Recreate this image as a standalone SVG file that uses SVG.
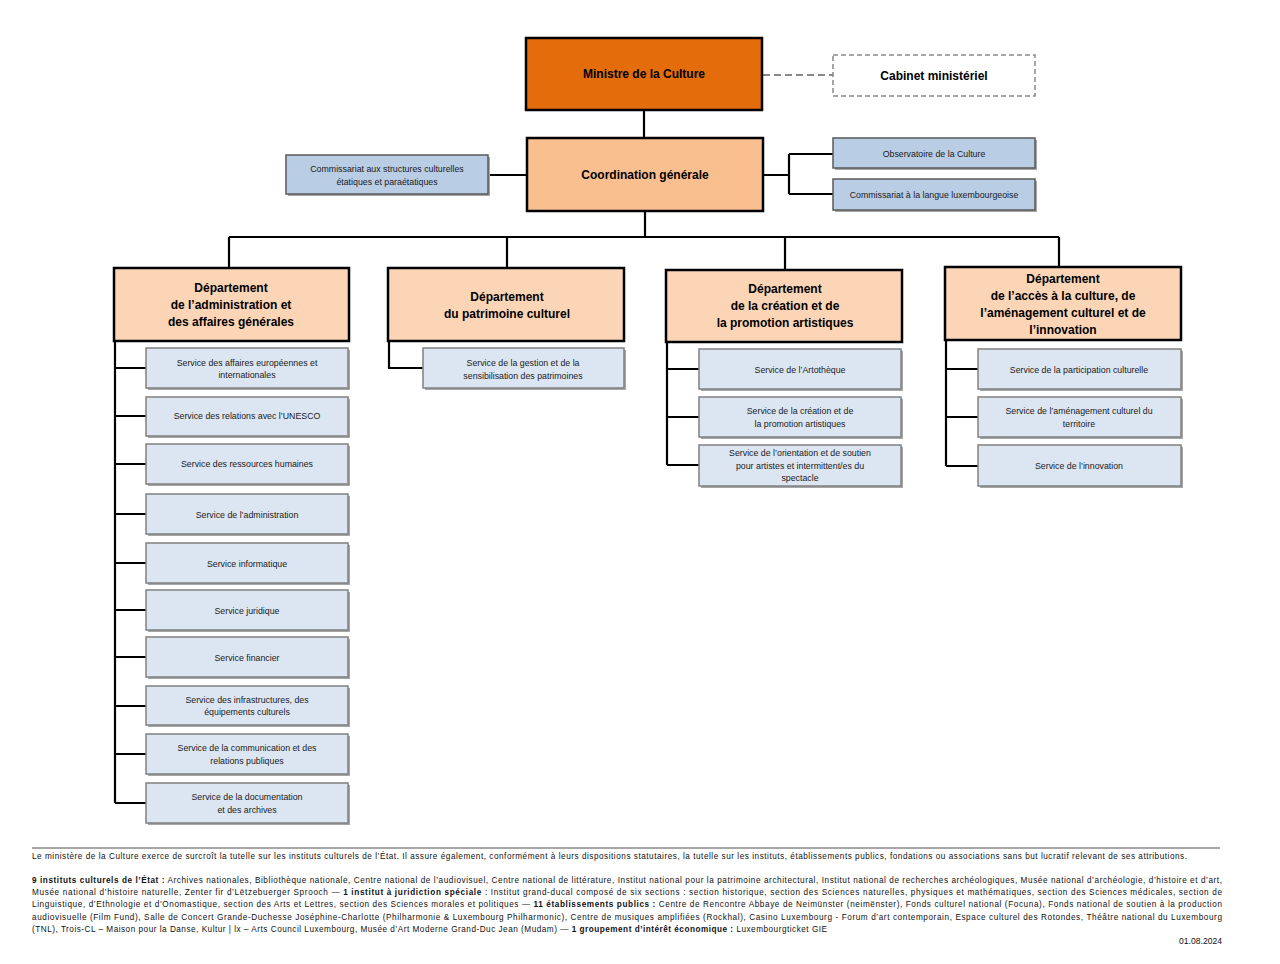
<svg xmlns="http://www.w3.org/2000/svg" width="1280" height="964" viewBox="0 0 1280 964">
<style>
text{font-family:"Liberation Sans",Arial,sans-serif;fill:#000;text-anchor:middle;dominant-baseline:central}
.top{stroke:#000;stroke-width:2.5}
.min{fill:#E46C0A}
.coord{fill:#F9BF8F}
.dept{fill:#FBD5B5}
.blue{fill:#B9CDE5;stroke:#595959;stroke-width:1.5}
.svc{fill:#DCE6F2;stroke:#808080;stroke-width:1.5}
.sh{fill:#A6A6A6}
.t1{font-size:12px;font-weight:bold}
.td{font-size:12px;font-weight:bold}
.ts{font-size:8.8px;fill:#1a1a1a}
.tb{font-size:8.8px;fill:#1a1a1a}
.ft{font-size:8.2px;text-anchor:start;dominant-baseline:auto;fill:#111}
.b{font-weight:bold}
.ln{fill:none;stroke:#000;stroke-width:2.2}
</style>
<rect width="1280" height="964" fill="#fff"/>
<g id="connectors">
<path class="ln" d="M644 110V138M488 175H527M763 175H789M789 154V194M789 154H833M789 194H833M645 211V237M229 237H1059M229 237V268M507 237V268M785 237V270M1059 237V267"/>
<path d="M763 75H833" fill="none" stroke="#888" stroke-width="2" stroke-dasharray="7,4"/>
<path class="ln" d="M115 341V803M115 368H146M115 416H146M115 464H146M115 514H146M115 563H146M115 610H146M115 657H146M115 706H146M115 754H146M115 803H146"/>
<path class="ln" d="M389 341V368H423"/>
<path class="ln" d="M667 342V465M667 369H699M667 417H699M667 465H699"/>
<path class="ln" d="M946 340V466M946 369H978M946 417H978M946 466H978"/>
</g>
<g id="ministre"><rect class="top min" x="526" y="38" width="236" height="72"/><text class="t1" x="644" y="74">Ministre de la Culture</text></g>
<g id="cabinet"><rect x="833" y="55" width="202" height="41" fill="#fff" stroke="#888" stroke-width="1.5" stroke-dasharray="5,3"/><text class="t1" x="934" y="76">Cabinet ministériel</text></g>
<g id="coordination"><rect class="top coord" x="527" y="138" width="236" height="73"/><text class="t1" x="645" y="175">Coordination générale</text></g>
<g id="commissariat-structures"><rect class="sh" x="288" y="157" width="202" height="39"/><rect class="blue" x="286" y="155" width="202" height="39"/><text class="tb" x="387" y="169">Commissariat aux structures culturelles</text><text class="tb" x="387" y="182">étatiques et paraétatiques</text></g>
<g id="observatoire"><rect class="sh" x="835" y="140" width="202" height="30"/><rect class="blue" x="833" y="138" width="202" height="30"/><text class="tb" x="934" y="154">Observatoire de la Culture</text></g>
<g id="commissariat-langue"><rect class="sh" x="835" y="181" width="202" height="31"/><rect class="blue" x="833" y="179" width="202" height="31"/><text class="tb" x="934" y="195">Commissariat à la langue luxembourgeoise</text></g>
<g id="dept-admin"><rect class="top dept" x="114" y="268" width="235" height="73"/><text class="td" x="231" y="288">Département</text><text class="td" x="231" y="305">de l’administration et</text><text class="td" x="231" y="322">des affaires générales</text></g>
<g id="dept-patrimoine"><rect class="top dept" x="388" y="268" width="236" height="73"/><text class="td" x="507" y="297">Département</text><text class="td" x="507" y="314">du patrimoine culturel</text></g>
<g id="dept-creation"><rect class="top dept" x="666" y="270" width="236" height="72"/><text class="td" x="785" y="289">Département</text><text class="td" x="785" y="306">de la création et de</text><text class="td" x="785" y="323">la promotion artistiques</text></g>
<g id="dept-acces"><rect class="top dept" x="945" y="267" width="236" height="73"/><text class="td" x="1063" y="279">Département</text><text class="td" x="1063" y="296">de l’accès à la culture, de</text><text class="td" x="1063" y="313">l’aménagement culturel et de</text><text class="td" x="1063" y="330">l’innovation</text></g>
<g id="s-europe"><rect class="sh" x="148" y="350" width="202" height="40"/><rect class="svc" x="146" y="348" width="202" height="40"/><text class="ts" x="247" y="363">Service des affaires européennes et</text><text class="ts" x="247" y="375">internationales</text></g>
<g id="s-unesco"><rect class="sh" x="148" y="399" width="202" height="39"/><rect class="svc" x="146" y="397" width="202" height="39"/><text class="ts" x="247" y="416">Service des relations avec l’UNESCO</text></g>
<g id="s-rh"><rect class="sh" x="148" y="446" width="202" height="40"/><rect class="svc" x="146" y="444" width="202" height="40"/><text class="ts" x="247" y="464">Service des ressources humaines</text></g>
<g id="s-admin"><rect class="sh" x="148" y="496" width="202" height="40"/><rect class="svc" x="146" y="494" width="202" height="40"/><text class="ts" x="247" y="515">Service de l’administration</text></g>
<g id="s-info"><rect class="sh" x="148" y="545" width="202" height="40"/><rect class="svc" x="146" y="543" width="202" height="40"/><text class="ts" x="247" y="564">Service informatique</text></g>
<g id="s-jur"><rect class="sh" x="148" y="592" width="202" height="40"/><rect class="svc" x="146" y="590" width="202" height="40"/><text class="ts" x="247" y="611">Service juridique</text></g>
<g id="s-fin"><rect class="sh" x="148" y="639" width="202" height="40"/><rect class="svc" x="146" y="637" width="202" height="40"/><text class="ts" x="247" y="658">Service financier</text></g>
<g id="s-infra"><rect class="sh" x="148" y="688" width="202" height="39"/><rect class="svc" x="146" y="686" width="202" height="39"/><text class="ts" x="247" y="700">Service des infrastructures, des</text><text class="ts" x="247" y="712">équipements culturels</text></g>
<g id="s-comm"><rect class="sh" x="148" y="736" width="202" height="40"/><rect class="svc" x="146" y="734" width="202" height="40"/><text class="ts" x="247" y="748">Service de la communication et des</text><text class="ts" x="247" y="761">relations publiques</text></g>
<g id="s-doc"><rect class="sh" x="148" y="785" width="202" height="40"/><rect class="svc" x="146" y="783" width="202" height="40"/><text class="ts" x="247" y="797">Service de la documentation</text><text class="ts" x="247" y="810">et des archives</text></g>
<g id="s-patrimoine"><rect class="sh" x="425" y="350" width="201" height="40"/><rect class="svc" x="423" y="348" width="201" height="40"/><text class="ts" x="523" y="363">Service de la gestion et de la</text><text class="ts" x="523" y="376">sensibilisation des patrimoines</text></g>
<g id="s-artotheque"><rect class="sh" x="701" y="351" width="202" height="40"/><rect class="svc" x="699" y="349" width="202" height="40"/><text class="ts" x="800" y="370">Service de l’Artothèque</text></g>
<g id="s-creation"><rect class="sh" x="701" y="399" width="202" height="40"/><rect class="svc" x="699" y="397" width="202" height="40"/><text class="ts" x="800" y="411">Service de la création et de</text><text class="ts" x="800" y="424">la promotion artistiques</text></g>
<g id="s-orientation"><rect class="sh" x="701" y="447" width="202" height="41"/><rect class="svc" x="699" y="445" width="202" height="41"/><text class="ts" x="800" y="453">Service de l’orientation et de soutien</text><text class="ts" x="800" y="466">pour artistes et intermittent/es du</text><text class="ts" x="800" y="478">spectacle</text></g>
<g id="s-participation"><rect class="sh" x="980" y="351" width="203" height="40"/><rect class="svc" x="978" y="349" width="203" height="40"/><text class="ts" x="1079" y="370">Service de la participation culturelle</text></g>
<g id="s-territoire"><rect class="sh" x="980" y="399" width="203" height="40"/><rect class="svc" x="978" y="397" width="203" height="40"/><text class="ts" x="1079" y="411">Service de l’aménagement culturel du</text><text class="ts" x="1079" y="424">territoire</text></g>
<g id="s-innovation"><rect class="sh" x="980" y="447" width="203" height="41"/><rect class="svc" x="978" y="445" width="203" height="41"/><text class="ts" x="1079" y="466">Service de l’innovation</text></g>
<g id="footer">
<line x1="32" y1="848" x2="1220" y2="848" stroke="#222" stroke-width="0.8"/>
<text class="ft" x="32" y="859" textLength="1155" lengthAdjust="spacing">Le ministère de la Culture exerce de surcroît la tutelle sur les instituts culturels de l’État. Il assure également, conformément à leurs dispositions statutaires, la tutelle sur les instituts, établissements publics, fondations ou associations sans but lucratif relevant de ses attributions.</text>
<text class="ft" x="32" y="883" textLength="1190" lengthAdjust="spacing"><tspan class="b">9 instituts culturels de l’État :</tspan> Archives nationales, Bibliothèque nationale, Centre national de l’audiovisuel, Centre national de littérature, Institut national pour la patrimoine architectural, Institut national de recherches archéologiques, Musée national d’archéologie, d’histoire et d’art,</text>
<text class="ft" x="32" y="895" textLength="1190" lengthAdjust="spacing">Musée national d’histoire naturelle, Zenter fir d’Lëtzebuerger Sprooch — <tspan class="b">1 institut à juridiction spéciale</tspan> : Institut grand-ducal composé de six sections : section historique, section des Sciences naturelles, physiques et mathématiques, section des Sciences médicales, section de</text>
<text class="ft" x="32" y="907" textLength="1190" lengthAdjust="spacing">Linguistique, d’Ethnologie et d’Onomastique, section des Arts et Lettres, section des Sciences morales et politiques — <tspan class="b">11 établissements publics :</tspan> Centre de Rencontre Abbaye de Neimünster (neimënster), Fonds culturel national (Focuna), Fonds national de soutien à la production</text>
<text class="ft" x="32" y="920" textLength="1190" lengthAdjust="spacing">audiovisuelle (Film Fund), Salle de Concert Grande-Duchesse Joséphine-Charlotte (Philharmonie &amp; Luxembourg Philharmonic), Centre de musiques amplifiées (Rockhal), Casino Luxembourg - Forum d’art contemporain, Espace culturel des Rotondes, Théâtre national du Luxembourg</text>
<text class="ft" x="32" y="932" textLength="795" lengthAdjust="spacing">(TNL), Trois-CL – Maison pour la Danse, Kultur | lx – Arts Council Luxembourg, Musée d’Art Moderne Grand-Duc Jean (Mudam) — <tspan class="b">1 groupement d’intérêt économique :</tspan> Luxembourgticket GIE</text>
<text class="ft" x="1222" y="944" style="text-anchor:end;font-size:8.6px">01.08.2024</text>
</g>
</svg>
